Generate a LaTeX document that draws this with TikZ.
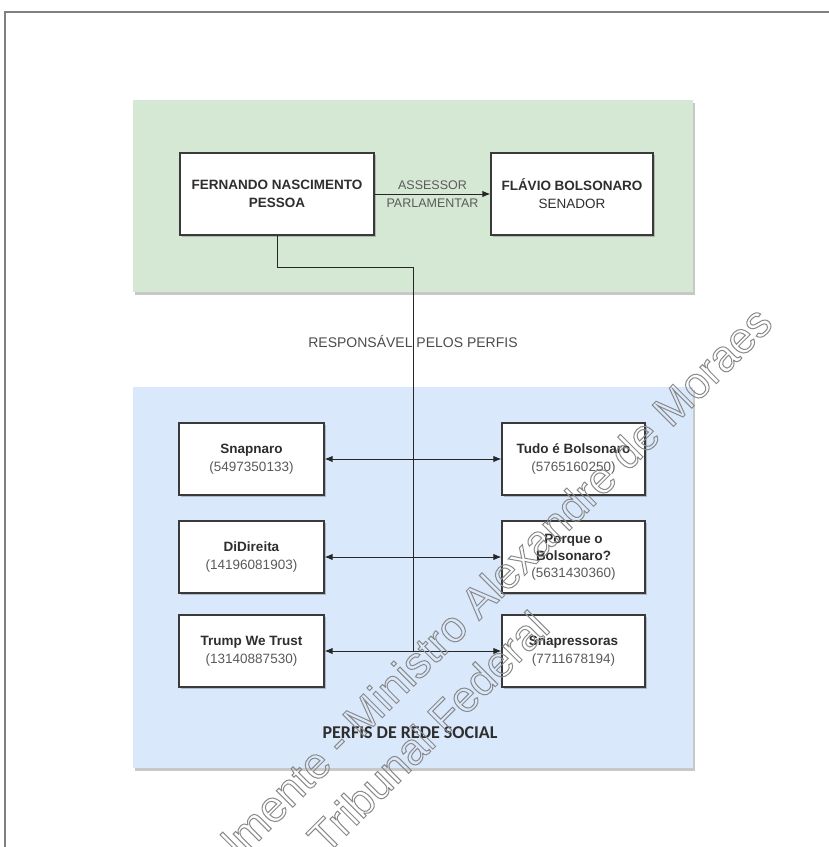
\documentclass[tikz,border=0pt]{standalone}
\usepackage{fontspec}
\setmainfont{Liberation Sans}
\newfontfamily\capfont{Carlito}
\usetikzlibrary{arrows.meta,shadows}

\definecolor{panelgreen}{HTML}{D5E8D4}
\definecolor{panelblue}{HTML}{DAE8FC}
\definecolor{boxline}{HTML}{3A3A3A}
\definecolor{ink}{HTML}{2E2E2E}
\definecolor{inkmid}{HTML}{5A5A5A}
\definecolor{framegray}{HTML}{808080}
\definecolor{markgray}{HTML}{8A8A8A}

% hollow (stroked) letters for the watermark
\newcommand{\hollowtext}[1]{\special{pdf:literal 1 Tr 1.0 w}#1\special{pdf:literal 0 Tr}}

\begin{document}
\begin{tikzpicture}[x=1pt,y=-1pt,
  panel/.style={draw=none, inner sep=0pt,
    drop shadow={shadow xshift=2pt, shadow yshift=-2.5pt, opacity=.30, fill=black!70}},
  card/.style={draw=boxline, line width=1.3pt, fill=white, inner sep=0pt,
    align=center, text=ink, font=\fontsize{13.5}{18}\selectfont,
    drop shadow={shadow xshift=2pt, shadow yshift=-2pt, opacity=.30, fill=black!70}},
  link/.style={draw=black!85, line width=1pt},
  tipd/.style={link, -{Latex[length=8pt,width=6.5pt]}},
  dbl/.style={link, {Latex[length=8pt,width=6.5pt]}-{Latex[length=8pt,width=6.5pt]}},
  lbl/.style={text=inkmid, inner sep=1pt},
  wmark/.style={text=markgray, font=\fontsize{44}{44}\selectfont, inner sep=0pt, rotate=45},
]
\useasboundingbox (0,0) rectangle (829,847);
\fill[white] (0,0) rectangle (829,847);

% page frame
\draw[framegray, line width=1.5pt] (5,847) -- (5,12) -- (829,12);

% group panels
\node[panel, fill=panelgreen, minimum width=560pt, minimum height=192pt] (office) at (413,196) {};
\node[panel, fill=panelblue, minimum width=560pt, minimum height=381pt] (profiles) at (413,577.5) {};

% people
\node[card, minimum width=194pt, minimum height=82pt] (fernando) at (277,194)
  {\bfseries FERNANDO NASCIMENTO\\\bfseries PESSOA};
\node[card, minimum width=162pt, minimum height=82pt] (flavio) at (572,194)
  {\bfseries FLÁVIO BOLSONARO\\SENADOR};

% social network profiles
\node[card, minimum width=145pt, minimum height=72pt] (snapnaro) at (251.5,459)
  {\bfseries Snapnaro\\{\color{inkmid}(5497350133)}};
\node[card, minimum width=145pt, minimum height=72pt] (didireita) at (251.5,557)
  {\bfseries DiDireita\\{\color{inkmid}(14196081903)}};
\node[card, minimum width=145pt, minimum height=72pt] (trump) at (251.5,651)
  {\bfseries Trump We Trust\\{\color{inkmid}(13140887530)}};
\node[card, minimum width=143pt, minimum height=72pt] (tudo) at (573.5,459)
  {\bfseries Tudo é Bolsonaro\\{\color{inkmid}(5765160250)}};
\node[card, minimum width=143pt, minimum height=72pt, font=\fontsize{13.5}{17}\selectfont] (porque) at (573.5,557)
  {\bfseries Porque o\\\bfseries Bolsonaro?\\{\color{inkmid}(5631430360)}};
\node[card, minimum width=143pt, minimum height=72pt] (snapress) at (573.5,651)
  {\bfseries Snapressoras\\{\color{inkmid}(7711678194)}};

% advisor relation
\draw[tipd] (fernando.east) -- (flavio.west)
  node[midway, above=3pt, lbl, font=\fontsize{12.5}{14}\selectfont] (assessor) {ASSESSOR}
  node[midway, below=3pt, lbl, font=\fontsize{12.5}{14}\selectfont] (parlam) {PARLAMENTAR};

% responsibility trunk and profile links
\coordinate (hub) at (413,651);
\draw[link] (fernando.south) -- ++(0,32) -| (hub);
\node[lbl, text=black!70, font=\fontsize{14}{16}\selectfont] (resp) at (413,341) {RESPONSÁVEL PELOS PERFIS};
\draw[dbl] (snapnaro.east) -- (tudo.west);
\draw[dbl] (didireita.east) -- (porque.west);
\draw[dbl] (trump.east) -- (snapress.west);

\node[text=ink, font=\capfont\bfseries\fontsize{18}{20}\selectfont, inner sep=0pt] (grouplbl) at (410,733) {PERFIS DE REDE SOCIAL};

% document watermark
\begin{scope}
\clip (0,0) rectangle (829,847);
\node[wmark, anchor=base east] (wm1) at (775,325) {\hollowtext{almente - Ministro Alexandre de Moraes}};
\node[wmark, anchor=base east] (wm2) at (552,630) {\hollowtext{Tribunal Federal}};
\end{scope}
\end{tikzpicture}
\end{document}
